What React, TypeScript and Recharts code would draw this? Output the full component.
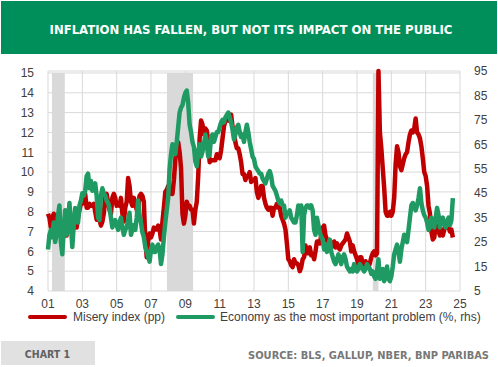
import { ComposedChart, Line, XAxis, YAxis, CartesianGrid, ReferenceArea } from "recharts"

const START_YEAR = 2001

const xTicks = [2001, 2003, 2005, 2007, 2009, 2011, 2013, 2015, 2017, 2019, 2021, 2023, 2025]
const leftTicks = [4, 5, 6, 7, 8, 9, 10, 11, 12, 13, 14, 15]
const rightTicks = [5, 15, 25, 35, 45, 55, 65, 75, 85, 95]

// NBER recessions, decimal years
const recessions = [
  [2001.23, 2001.98],
  [2007.93, 2009.45],
  [2019.92, 2020.25],
]

// misery index, monthly from Jan 2001 (pp)
const misery = [
  7.9, 7.7, 7.2, 7.7, 7.9, 7.7, 7.3, 7.6, 7.6, 7.4, 7.4, 7.3,
  6.8, 6.8, 7.2, 7.5, 7.0, 6.9, 7.3, 7.5, 7.2, 7.7, 8.1, 8.4,
  8.4, 8.9, 8.9, 8.2, 8.2, 8.4, 8.3, 8.3, 8.4, 8.0, 7.6, 7.6,
  7.6, 7.3, 7.5, 7.9, 8.7, 8.9, 8.5, 8.1, 7.9, 8.7, 8.9, 8.7,
  8.3, 8.4, 8.3, 8.7, 7.9, 7.5, 8.2, 8.5, 9.7, 9.3, 8.5, 8.3,
  8.7, 8.4, 8.1, 8.2, 8.8, 8.9, 8.8, 8.5, 6.6, 5.7, 6.5, 6.9,
  6.7, 6.9, 7.2, 7.1, 7.1, 7.3, 7.1, 6.6, 7.5, 8.2, 9.0, 9.1,
  9.3, 8.9, 9.1, 8.9, 9.6, 10.6, 11.4, 11.5, 11.0, 10.2, 7.9, 7.4,
  7.8, 8.5, 8.3, 8.3, 8.1, 8.1, 7.4, 8.1, 8.5, 9.8, 11.7, 12.6,
  12.4, 11.9, 12.2, 12.1, 11.6, 10.5, 10.6, 10.6, 10.6, 10.6, 10.9, 10.8,
  10.7, 11.1, 11.7, 12.3, 12.6, 12.7, 12.6, 12.8, 12.9, 12.3, 12.0, 11.5,
  11.2, 11.2, 10.9, 10.5, 9.9, 9.9, 9.6, 9.8, 9.8, 10.0, 9.5, 9.6,
  9.6, 9.7, 9.0, 8.7, 8.9, 9.3, 9.3, 8.7, 8.4, 8.2, 8.1, 8.2,
  8.2, 7.8, 8.2, 8.2, 8.4, 8.2, 8.2, 7.8, 7.6, 7.4, 7.1, 6.4,
  5.6, 5.5, 5.3, 5.2, 5.6, 5.4, 5.4, 5.3, 5.0, 5.2, 5.6, 5.7,
  6.3, 5.9, 5.9, 6.2, 5.8, 5.9, 5.6, 6.0, 6.5, 6.5, 6.4, 6.8,
  7.2, 7.3, 6.8, 6.6, 6.3, 6.1, 6.2, 6.3, 6.5, 6.2, 6.4, 6.2,
  6.1, 6.3, 6.4, 6.5, 6.6, 6.9, 6.7, 6.5, 6.0, 6.3, 6.0, 5.8,
  5.6, 5.3, 5.7, 5.7, 5.4, 5.2, 5.5, 5.3, 5.2, 5.4, 5.7, 5.9,
  6.0, 5.8, 5.9, 15.1, 12.0, 11.2, 10.2, 9.2, 8.0, 7.8, 7.8, 8.0,
  7.8, 8.0, 8.7, 10.4, 11.3, 11.0, 10.3, 10.1, 10.4, 10.7, 10.9, 11.0,
  11.5, 11.9, 12.1, 12.0, 12.2, 12.7, 12.0, 11.9, 11.7, 11.3, 10.7, 10.0,
  9.8, 9.3, 8.3, 7.9, 7.0, 6.6, 6.7, 7.3, 7.3, 7.0, 6.8, 7.1,
  6.8, 7.1, 7.3, 7.2, 7.2, 7.0, 7.1, 6.7,
]

// economy as the most important problem, monthly from Jan 2001 (%)
const economy = [
  22, 28, 30, 27, 33, 25, 28, 36, 40, 25, 20, 30,
  38, 28, 33, 41, 32, 23, 32, 39, 35, 33, 40, 42,
  45, 44, 46, 52, 53, 47, 50, 46, 48, 49, 44, 35,
  34, 44, 47, 45, 44, 42, 41, 39, 35, 31, 33, 34,
  32, 30, 33, 35, 31, 28, 30, 31, 34, 37, 28, 30,
  32, 30, 35, 42, 36, 33, 29, 27, 23, 21, 19, 17,
  22, 24, 21, 21, 23, 24, 22, 16, 20, 27, 33, 38,
  43, 55, 61, 65, 64, 61, 66, 72, 78, 80, 81, 84,
  86, 87, 82, 73, 70, 66, 64, 58, 56, 62, 65, 60,
  62, 65, 69, 65, 60, 61, 68, 69, 66, 68, 70, 70,
  72, 74, 75, 74, 76, 77, 78, 76, 74, 71, 67, 69,
  72, 73, 70, 68, 69, 66, 70, 73, 70, 66, 63, 60,
  59, 56, 55, 54, 53, 53, 51, 50, 49, 51, 53, 54,
  52, 48, 47, 46, 44, 42, 41, 42, 40, 40, 35, 37,
  37, 38, 35, 34, 33, 33, 36, 40, 38, 40, 21, 36,
  39, 40, 40, 39, 40, 38, 30, 28, 35, 32, 29, 27,
  26, 22, 24, 21, 24, 26, 21, 19, 17, 16, 18, 20,
  18, 16, 19, 20, 18, 15, 14, 13, 14, 13, 16, 14,
  13, 14, 16, 15, 14, 13, 14, 16, 15, 14, 12, 13,
  11, 10, 13, 18, 10, 12, 14, 9, 11, 15, 10, 9,
  11, 15, 20, 22, 24, 21, 17, 22, 25, 28, 26, 25,
  30, 35, 40, 41, 39, 38, 40, 43, 47, 41, 38, 36,
  35, 33, 30, 31, 35, 32, 31, 35, 39, 36, 31, 33,
  35, 33, 31, 33, 35, 32, 34, 43,
]

const RED = "#c00000"
const GREEN = "#209a63"
const GRID = "#d9d9d9"
const TEXT = "#404040"
const FONT = "'Liberation Sans', Arial, sans-serif"
const COND = "'DejaVu Sans Condensed', 'DejaVu Sans', sans-serif"

const data = misery.map((m, i) => ({
  t: START_YEAR + i / 12,
  misery: m,
  economy: economy[i],
}))

const tick = { fontSize: 12, fill: TEXT, fontFamily: FONT }

export default function App() {
  return (
    <div style={{ position: "absolute", left: 0, top: 0, width: 498, height: 367, background: "#fff", overflow: "hidden" }}>
      <ComposedChart
        width={498}
        height={367}
        data={data}
        margin={{ top: 71, right: 0, bottom: 56, left: 0 }}
      >
        <CartesianGrid stroke={GRID} strokeWidth={1} yAxisId="left" />
        {recessions.map(([a, b], i) => (
          <ReferenceArea
            key={i}
            yAxisId="left"
            x1={a}
            x2={b}
            y1={4}
            y2={15}
            fill={GRID}
            fillOpacity={1}
            stroke="none"
          />
        ))}
        <XAxis
          dataKey="t"
          type="number"
          domain={[2001, 2025]}
          ticks={xTicks}
          interval={0}
          tickFormatter={(v: number) => String(v % 100).padStart(2, "0")}
          axisLine={false}
          tickLine={false}
          height={20}
          tick={tick}
        />
        <YAxis
          yAxisId="left"
          domain={[4, 15]}
          ticks={leftTicks}
          interval={0}
          width={48}
          axisLine={false}
          tickLine={false}
          tickMargin={8}
          tick={tick}
        />
        <YAxis
          yAxisId="right"
          orientation="right"
          domain={[5, 95]}
          ticks={rightTicks}
          interval={0}
          width={38}
          axisLine={false}
          tickLine={false}
          tickMargin={8}
          tick={{ ...tick, textAnchor: "start" }}
        />
        <Line
          yAxisId="left"
          type="linear"
          dataKey="misery"
          stroke={RED}
          strokeWidth={4.5}
          strokeLinejoin="round"
          dot={false}
          isAnimationActive={false}
        />
        <Line
          yAxisId="right"
          type="linear"
          dataKey="economy"
          stroke={GREEN}
          strokeWidth={4.5}
          strokeLinejoin="round"
          dot={false}
          isAnimationActive={false}
        />
      </ComposedChart>

      {/* legend */}
      <div style={{ position: "absolute", left: 28, top: 309, height: 16, display: "flex", alignItems: "center", fontFamily: FONT, fontSize: 12, color: TEXT, whiteSpace: "nowrap" }}>
        <span style={{ display: "inline-block", width: 39, height: 4, background: RED, borderRadius: 2, marginRight: 6 }} />
        <span>Misery index (pp)</span>
        <span style={{ display: "inline-block", width: 39, height: 4, background: GREEN, borderRadius: 2, marginLeft: 11, marginRight: 5 }} />
        <span>Economy as the most important problem (%, rhs)</span>
      </div>

      {/* banner and footer */}
      <svg width={498} height={367} style={{ position: "absolute", left: 0, top: 0, pointerEvents: "none" }}>
        <rect x={1} y={1} width={496} height={53} fill="#008f5a" />
        <text x={251} y={33.5} textAnchor="middle" fill="#fff" fontFamily={COND} fontWeight="bold" fontSize={13}>
          INFLATION HAS FALLEN, BUT NOT ITS IMPACT ON THE PUBLIC
        </text>
        <rect x={1} y={341} width={94} height={24} fill="#e1e1e1" />
        <text x={47.5} y={357.5} textAnchor="middle" fill="#606060" fontFamily={COND} fontWeight="bold" fontSize={10.5}>
          CHART 1
        </text>
        <text x={489} y={358.5} textAnchor="end" fill="#777" fontFamily={COND} fontWeight="bold" fontSize={11}>
          SOURCE: BLS, GALLUP, NBER, BNP PARIBAS
        </text>
      </svg>
    </div>
  )
}
